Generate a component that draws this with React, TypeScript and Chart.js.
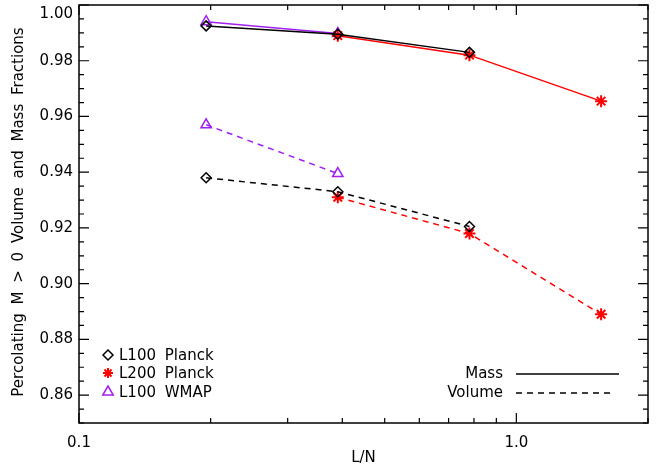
import React, { useEffect, useRef } from "react";
import { Chart, registerables } from "chart.js";

Chart.register(...registerables);

const xL100 = [0.1953, 0.3906, 0.78125];
const xL200 = [0.3906, 0.78125, 1.5625];
const xWMAP = [0.1953, 0.3906];

const massL100Planck = [0.9925, 0.9895, 0.983];
const massL200Planck = [0.989, 0.982, 0.9655];
const massL100WMAP = [0.994, 0.9898];

const volL100Planck = [0.938, 0.933, 0.9205];
const volL200Planck = [0.931, 0.918, 0.889];
const volL100WMAP = [0.957, 0.9395];

const yTicks = [0.86, 0.88, 0.9, 0.92, 0.94, 0.96, 0.98, 1.0];
const xTickLabels = [0.1, 1.0];
const seriesNames = ["L100 Planck", "L200 Planck", "L100 WMAP"];
const lineNames = ["Mass", "Volume"];
const xTitle = "L/N";
const yTitle = "Percolating M > 0 Volume and Mass Fractions";

const BLACK = "#000000";
const RED = "#ff0000";
const PURPLE = "#a020f0";
const FONT = "'DejaVu Sans', sans-serif";

const pts = (xs: number[], ys: number[]) => xs.map((x, i) => ({ x, y: ys[i] }));

function drawMarker(c: CanvasRenderingContext2D, style: string, x: number, y: number, r: number) {
  c.beginPath();
  if (style === "rectRot") {
    c.moveTo(x, y - r);
    c.lineTo(x + r, y);
    c.lineTo(x, y + r);
    c.lineTo(x - r, y);
    c.closePath();
  } else if (style === "triangle") {
    c.moveTo(x, y - r);
    c.lineTo(x + r * 0.87, y + r * 0.5);
    c.lineTo(x - r * 0.87, y + r * 0.5);
    c.closePath();
  } else {
    const d = r * 0.7071;
    c.moveTo(x - r, y);
    c.lineTo(x + r, y);
    c.moveTo(x, y - r);
    c.lineTo(x, y + r);
    c.moveTo(x - d, y - d);
    c.lineTo(x + d, y + d);
    c.moveTo(x - d, y + d);
    c.lineTo(x + d, y - d);
  }
  c.stroke();
}

export default function App() {
  const ref = useRef<HTMLCanvasElement | null>(null);
  useEffect(() => {
    document.body.style.margin = "0";
    const ctx = ref.current!.getContext("2d")!;
    const mk = (label: string, data: any[], color: string, style: string, dash: number[], radius: number) => ({
      label,
      data,
      borderColor: color,
      backgroundColor: "rgba(0,0,0,0)",
      pointBorderColor: color,
      pointBackgroundColor: "rgba(0,0,0,0)",
      pointStyle: style,
      pointRadius: radius,
      pointBorderWidth: style === "star" ? 2 : 1.5,
      borderWidth: 1.5,
      borderDash: dash,
      tension: 0,
    });
    const DASH = [6, 5];
    const framePlugin = {
      id: "frame",
      afterDraw(chart: any) {
        const c = chart.ctx;
        const a = chart.chartArea;
        const xs = chart.scales.x;
        const ys = chart.scales.y;
        c.save();
        c.strokeStyle = "#000";
        c.lineWidth = 1.5;
        c.setLineDash([]);
        c.strokeRect(a.left, a.top, a.right - a.left, a.bottom - a.top);
        c.lineWidth = 1.2;
        for (let k = 0; k <= 30; k++) {
          const v = 0.85 + k * 0.005;
          const h = v * 100;
          const major = Math.abs(h - Math.round(h)) < 1e-6 && Math.round(h) % 2 === 0;
          const len = major ? 10 : 5;
          const py = ys.getPixelForValue(v);
          c.beginPath();
          c.moveTo(a.left, py);
          c.lineTo(a.left + len, py);
          c.moveTo(a.right, py);
          c.lineTo(a.right - len, py);
          c.stroke();
        }
        const xt: number[] = [];
        for (let d = 0.1; d < 2.01; d *= 10) {
          for (let m = 1; m <= 9; m++) {
            const v = d * m;
            if (v <= 2.0001) xt.push(v);
          }
        }
        xt.forEach((v) => {
          const major = Math.abs(v - 0.1) < 1e-9 || Math.abs(v - 1) < 1e-9;
          const len = major ? 10 : 5;
          const px = xs.getPixelForValue(v);
          c.beginPath();
          c.moveTo(px, a.bottom);
          c.lineTo(px, a.bottom - len);
          c.moveTo(px, a.top);
          c.lineTo(px, a.top + len);
          c.stroke();
        });
        c.font = `15px ${FONT}`;
        c.fillStyle = "#000";
        (c as any).wordSpacing = "4px";
        c.textAlign = "center";
        c.textBaseline = "middle";
        c.fillText(xTitle, (a.left + a.right) / 2, 458);
        c.save();
        c.translate(19, 212);
        c.rotate(-Math.PI / 2);
        c.fillText(yTitle, 0, 0);
        c.restore();
        c.textAlign = "left";
        const styles = ["rectRot", "star", "triangle"];
        const colors = [BLACK, RED, PURPLE];
        const rows = [355, 373, 392];
        seriesNames.forEach((n, i) => {
          c.save();
          c.strokeStyle = colors[i];
          c.lineWidth = styles[i] === "star" ? 2 : 1.5;
          drawMarker(c, styles[i], 108, rows[i], styles[i] === "triangle" ? 6 : 5);
          c.restore();
          c.fillStyle = "#000";
          c.fillText(n, 119, rows[i] + 1);
        });
        c.textAlign = "right";
        c.fillText(lineNames[0], 503, 374);
        c.fillText(lineNames[1], 503, 393);
        c.lineWidth = 1.5;
        c.beginPath();
        c.moveTo(516, 374);
        c.lineTo(619, 374);
        c.stroke();
        c.setLineDash(DASH);
        c.beginPath();
        c.moveTo(516, 393);
        c.lineTo(615, 393);
        c.stroke();
        c.restore();
      },
    };
    const chart = new Chart(ctx, {
      type: "line",
      data: {
        datasets: [
          mk("L100 Planck Mass", pts(xL100, massL100Planck), BLACK, "rectRot", [], 5),
          mk("L100 Planck Volume", pts(xL100, volL100Planck), BLACK, "rectRot", DASH, 5),
          mk("L200 Planck Mass", pts(xL200, massL200Planck), RED, "star", [], 6),
          mk("L200 Planck Volume", pts(xL200, volL200Planck), RED, "star", DASH, 6),
          mk("L100 WMAP Mass", pts(xWMAP, massL100WMAP), PURPLE, "triangle", [], 6),
          mk("L100 WMAP Volume", pts(xWMAP, volL100WMAP), PURPLE, "triangle", DASH, 6),
        ] as any,
      },
      options: {
        animation: false,
        responsive: false,
        layout: { autoPadding: false, padding: { top: 5, right: 9, left: 0, bottom: 0 } },
        plugins: { legend: { display: false }, tooltip: { enabled: false } },
        scales: {
          x: {
            type: "logarithmic",
            min: 0.1,
            max: 2.0,
            grid: { display: false, drawTicks: false },
            border: { display: false },
            afterBuildTicks: (s: any) => {
              s.ticks = xTickLabels.map((v) => ({ value: v }));
            },
            afterFit: (s: any) => {
              s.height = 49;
              s.paddingLeft = 0;
              s.paddingRight = 0;
            },
            ticks: {
              color: "#000",
              font: { family: FONT, size: 15 },
              padding: 11,
              autoSkip: false,
              maxRotation: 0,
              callback: (v: any) => Number(v).toFixed(1),
            },
            title: { display: false },
          },
          y: {
            type: "linear",
            min: 0.85,
            max: 1.0,
            grid: { display: false, drawTicks: false },
            border: { display: false },
            afterBuildTicks: (s: any) => {
              s.ticks = yTicks.map((v) => ({ value: v }));
            },
            afterFit: (s: any) => {
              s.width = 79;
              s.paddingTop = 0;
              s.paddingBottom = 0;
            },
            ticks: {
              color: "#000",
              font: { family: FONT, size: 15 },
              padding: 6,
              callback: (v: any) => {
                const t = Number(v).toFixed(2);
                return Number(v) >= 0.9999 ? ["", t] : t;
              },
            },
            title: { display: false },
          },
        },
      } as any,
      plugins: [framePlugin],
    });
    return () => chart.destroy();
  }, []);
  return (
    <div style={{ position: "absolute", left: 0, top: 0, width: 657, height: 472, background: "#fff" }}>
      <canvas ref={ref} width={657} height={472} style={{ display: "block" }} />
    </div>
  );
}
